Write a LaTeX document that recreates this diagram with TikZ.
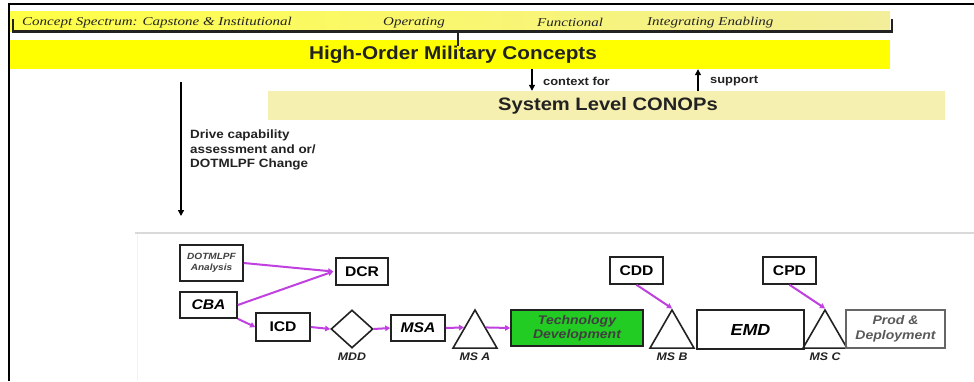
\documentclass[tikz,border=0pt]{standalone}
\usepackage{fontspec}
\setmainfont{Liberation Serif}
\setsansfont{Liberation Sans}
\newfontfamily\ws{Liberation Sans}[FakeStretch=1.12]
\newfontfamily\specfont{Liberation Serif}[FakeStretch=1.25]
\usetikzlibrary{shapes.geometric,calc,arrows.meta}
\definecolor{band}{HTML}{FFFF00}
\definecolor{bandL}{HTML}{FFFF45}
\definecolor{bandR}{HTML}{F3EE9A}
\definecolor{pale}{HTML}{F6F0B0}
\definecolor{mag}{HTML}{C040E0}
\definecolor{tdgreen}{HTML}{22CC22}
\definecolor{edge}{HTML}{222222}
\tikzset{
  bx/.style={draw=edge, line width=1.6pt, inner sep=0pt},
  lbl/.style={font=\ws\bfseries\fontsize{14}{15}\selectfont},
  lbli/.style={font=\ws\bfseries\itshape\fontsize{14}{15}\selectfont},
  tri/.style={regular polygon, regular polygon sides=3, draw=edge, line width=1.6pt, minimum size=50.8pt, inner sep=0pt},
  ms/.style={font=\ws\bfseries\itshape\fontsize{11}{12}\selectfont, text=edge},
  marr/.style={draw=mag, line width=2pt, -{Triangle[length=5pt,width=5.5pt]}},
  barr/.style={draw=black, line width=1.3pt, -{Triangle[length=6pt,width=6pt]}},
  spec/.style={font=\specfont\itshape\fontsize{12}{13}\selectfont, text=edge, anchor=west, inner sep=0pt},
  small/.style={font=\ws\bfseries\fontsize{11.5}{12}\selectfont, anchor=west, text=edge, inner sep=0pt},
}
\begin{document}
\begin{tikzpicture}[x=1pt,y=-1pt]
\useasboundingbox (0,0) rectangle (974,381);
\fill[white] (0,0) rectangle (974,381);
% frame
\draw[black, line width=2.5pt] (8,4) -- (974,4);
\draw[black, line width=2.5pt] (9,4) -- (9,381);
\draw[black!15, line width=1.5pt] (135,233) -- (974,233);
\draw[black!5, line width=1pt] (137,234) -- (137,381);
% spectrum band
\node[inner sep=0pt, minimum width=880pt, minimum height=20pt, left color=bandL, right color=bandR, shading angle=90] (spec) at (450,21) {};
\draw[edge, line width=2.4pt] (13,19) -- (13,31.5) -- (892,31.5) -- (892,19);
\draw[edge, line width=2.4pt] (458,31.5) -- (458,42);
\node[spec] (t1) at (22,22.5) {Concept Spectrum: Capstone \& Institutional};
\node[spec] (t2) at (383,22.5) {Operating};
\node[spec] (t3) at (537,22.5) {Functional};
\node[spec] (t4) at (647,22.5) {Integrating Enabling};
% HOM band
\node[fill=band, inner sep=0pt, minimum width=880pt, minimum height=29pt] (hom) at (450,54.5) {};
\node[font=\ws\bfseries\fontsize{18.5}{19}\selectfont, text=edge] (homt) at (453,54.5) {High-Order Military Concepts};
\draw[edge, line width=2.4pt] (458,40) -- (458,46);
% SLC band
\node[fill=pale, inner sep=0pt, minimum width=677pt, minimum height=29pt] (slc) at (606.5,105.5) {};
\node[font=\ws\bfseries\fontsize{18}{19}\selectfont, text=edge] (slct) at (608,106) {System Level CONOPs};
\coordinate (ctx) at (532,0);
\coordinate (sup) at (698,0);
\draw[barr] (hom.south -| ctx) -- (slc.north -| ctx);
\draw[barr] (slc.north -| sup) -- (hom.south -| sup);
\node[small] (ctxl) at (543,81) {context for};
\node[small] (supl) at (710,81) {support};
% long arrow
\coordinate (la1) at (181,82);
\coordinate (la2) at (181,216);
\draw[barr] (la1) -- (la2);
\node[font=\ws\bfseries\fontsize{12}{14.5}\selectfont, anchor=north west, align=left, inner sep=0pt, text=edge] (drive) at (190,130) {Drive capability\\assessment and or/\\DOTMLPF Change};
% process
\node[bx, minimum width=63pt, minimum height=36pt, align=center, font=\ws\bfseries\itshape\fontsize{9}{11}\selectfont, text=black!75] (dot) at (211.5,263) {DOTMLPF\\Analysis};
\node[bx, lbl, minimum width=52pt, minimum height=27pt] (dcr) at (362,271.5) {DCR};
\node[bx, lbli, minimum width=57pt, minimum height=26pt] (cba) at (208.5,305) {CBA};
\node[bx, lbl, minimum width=54pt, minimum height=28pt] (icd) at (283,327) {ICD};
\node[diamond, draw=edge, line width=1.6pt, minimum width=42pt, minimum height=38pt, inner sep=0pt] (mdd) at (352,329) {};
\node[bx, lbli, minimum width=54pt, minimum height=26pt] (msa) at (418,328) {MSA};
\node[tri] (msA) at (475,335.4) {};
\node[bx, fill=tdgreen, minimum width=132pt, minimum height=36pt, align=center, font=\ws\bfseries\itshape\fontsize{12.5}{14}\selectfont, text=black!75] (tech) at (577,328) {Technology\\Development};
\node[tri] (msB) at (672,335.4) {};
\node[bx, minimum width=107pt, minimum height=39pt, font=\ws\bfseries\itshape\fontsize{16}{17}\selectfont] (emd) at (750.5,329.5) {EMD};
\node[tri] (msC) at (825,335.4) {};
\node[bx, draw=black!60, minimum width=99pt, minimum height=38pt, align=center, font=\ws\bfseries\itshape\fontsize{12.5}{15}\selectfont, text=black!65] (prod) at (895.5,329) {Prod \&\\Deployment};
\node[bx, lbl, minimum width=53pt, minimum height=27pt] (cdd) at (636.5,270.5) {CDD};
\node[bx, lbl, minimum width=53pt, minimum height=27pt] (cpd) at (789.5,270.5) {CPD};
% labels
\node[ms] (lmdd) at (352,357) {MDD};
\node[ms] (lmsa) at (475,357) {MS A};
\node[ms] (lmsb) at (672,357) {MS B};
\node[ms] (lmsc) at (825,357) {MS C};
% magenta arrows
\draw[marr] (dot.east) -- ($(dcr.west)+(-2,0)$);
\draw[marr] (cba.east) -- ($(dcr.west)+(-2,0)$);
\draw[marr] (cba.south east) -- (icd.west);
\draw[marr] (icd.east) -- (mdd.west);
\draw[marr] (mdd.east) -- (msa.west);
\draw[marr] (msa.east) -- ($(msA.corner 1)!0.47!(msA.corner 2)$);
\draw[marr] ($(msA.corner 1)!0.47!(msA.corner 3)$) -- (tech.west);
\draw[marr] (cdd.south) -- (msB.corner 1);
\draw[marr] (cpd.south) -- (msC.corner 1);
\end{tikzpicture}
\end{document}
